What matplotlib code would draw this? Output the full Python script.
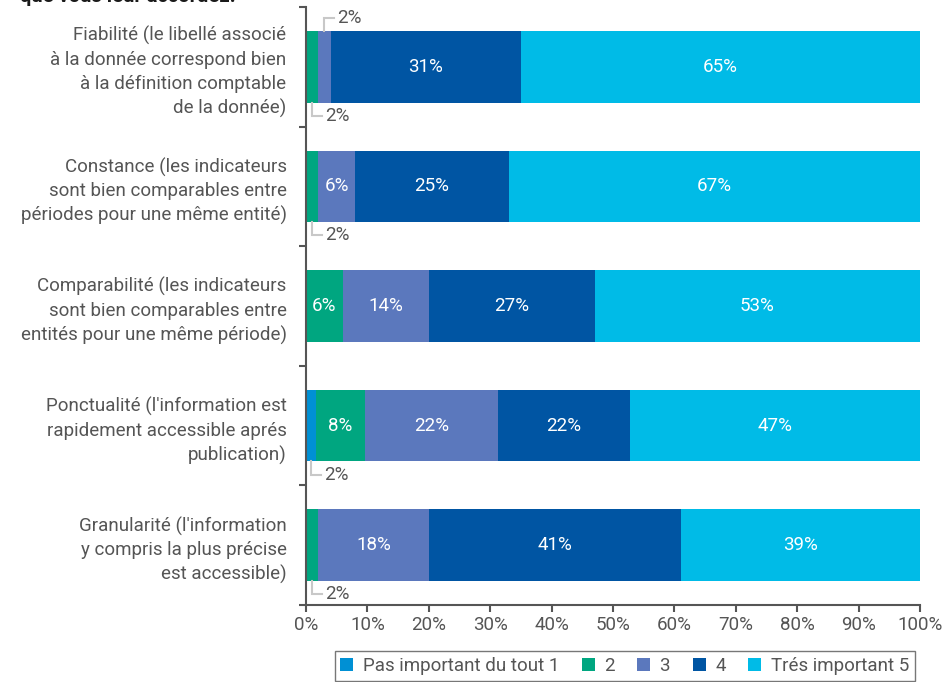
import matplotlib.pyplot as plt
from matplotlib.patches import Patch

plt.rcParams['font.family'] = ['Roboto', 'DejaVu Sans']

# categories (top to bottom) and share of answers per level, in %
categories = [
    "Fiabilité (le libellé associé\nà la donnée correspond bien\nà la définition comptable\nde la donnée)",
    "Constance (les indicateurs\nsont bien comparables entre\npériodes pour une même entité)",
    "Comparabilité (les indicateurs\nsont bien comparables entre\nentités pour une même période)",
    "Ponctualité (l'information est\nrapidement accessible aprés\npublication)",
    "Granularité (l'information\ny compris la plus précise\nest accessible)",
]
levels = ["Pas important du tout 1", "2", "3", "4", "Trés important 5"]
level1 = [0, 0, 0, 1.6, 0]
level2 = [2, 2, 6, 8.0, 2]
level3 = [2, 6, 14, 21.6, 18]
level4 = [31, 25, 27, 21.6, 41]
level5 = [65, 67, 53, 47.2, 39]
colors = ['#0090d4', '#00a680', '#5b78bd', '#0055a3', '#00bbe7']

# small segments labelled outside the bar: (row, level index, 'above'/'below')
outside = [(0, 2, 'above'), (0, 1, 'below'), (1, 1, 'below'), (3, 0, 'below'), (4, 1, 'below')]

series = [level1, level2, level3, level4, level5]
grey = '#555555'
fs = 13.5

fig = plt.figure(figsize=(9.42, 6.82), dpi=100)
ax = fig.add_axes([306 / 942, 77 / 682, 614 / 942, 598 / 682])

ypos = list(range(len(categories)))
left = [0] * len(categories)
for k, vals in enumerate(series):
    ax.barh(ypos, vals, left=left, height=0.6, color=colors[k], label=levels[k])
    for i, v in enumerate(vals):
        if v >= 5:
            ax.text(left[i] + v / 2, i, f"{round(v)}%", ha='center', va='center',
                    color='white', fontsize=fs)
    left = [a + b for a, b in zip(left, vals)]

# leader lines for the thin segments
for i, k, where in outside:
    start = sum(series[j][i] for j in range(k))
    v = series[k][i]
    xc = start + v / 2
    if where == 'above':
        y0, y1 = i - 0.3, i - 0.41
    else:
        y0, y1 = i + 0.3, i + 0.41
    ax.plot([xc, xc, xc + 1.6], [y0, y1, y1], color='#c8c8c8', lw=1.5,
            solid_joinstyle='miter', clip_on=False)
    ax.text(xc + 2.1, y1, f"{round(v)}%", ha='left', va='center', color=grey,
            fontsize=fs)

ax.set_xlim(0, 100)
ax.set_ylim(4.5, -0.5)
ax.set_xticks(range(0, 101, 10))
ax.set_xticklabels([f"{t}%" for t in range(0, 101, 10)])
ax.set_yticks([b - 0.5 for b in range(len(categories) + 1)])
ax.set_yticklabels([])
ax.set_yticks(ypos, minor=True)
ax.set_yticklabels(categories, minor=True, linespacing=1.4)
ax.tick_params(axis='y', which='minor', length=0, pad=14, labelsize=fs, labelcolor=grey)
ax.tick_params(axis='y', which='major', length=5, width=1.5, color=grey)
ax.tick_params(axis='x', length=5, width=1.5, color=grey, labelsize=fs,
               labelcolor=grey, pad=3)
for s in ['top', 'right']:
    ax.spines[s].set_visible(False)
for s in ['left', 'bottom']:
    ax.spines[s].set_color(grey)
    ax.spines[s].set_linewidth(1.5)

fig.text(0.021, 1 - 2 / 682, "que vous leur accordez.", ha='left', va='baseline',
         fontsize=14.5, fontweight='bold', color='#1a1a1a')

handles = [Patch(facecolor=c, edgecolor='none') for c in colors]
leg = fig.legend(handles, levels, loc='center', bbox_to_anchor=(624.5 / 942, 1 - 666 / 682),
                 ncol=5, frameon=True, fancybox=False, handlelength=0.7, handleheight=0.7,
                 handletextpad=0.5, columnspacing=1.2, borderpad=0.3,
                 prop={'size': fs})
leg.get_frame().set_edgecolor(grey)
leg.get_frame().set_linewidth(1.0)
for t in leg.get_texts():
    t.set_color(grey)

fig.savefig('out.png', dpi=100)
